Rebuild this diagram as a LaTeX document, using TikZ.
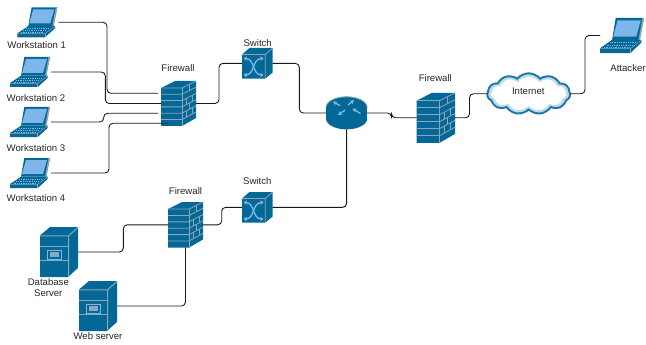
\documentclass[tikz,border=0pt]{standalone}
\usepackage{fontspec}
\setmainfont{Liberation Sans}
\usetikzlibrary{arrows.meta,shapes.symbols}
\definecolor{ciscoblue}{HTML}{036897}
\definecolor{ciscoedge}{HTML}{8CA6B4}
\definecolor{screenblue}{HTML}{7DB6EA}
\definecolor{arrowblue}{HTML}{7DBBE6}
\definecolor{cloudline}{HTML}{1F76A3}
\definecolor{cloudhalo}{HTML}{BBDCEC}
\definecolor{labeltext}{HTML}{262626}
\tikzset{
  x=1pt,y=-1pt,
  iconbox/.style={inner sep=0pt,outer sep=0pt,minimum width=#1,anchor=north west},
  lab/.style={font=\fontsize{9.6}{11.6}\selectfont,text=labeltext,inner sep=0pt,align=center},
  link/.style={draw=black!90,line width=0.9pt,rounded corners=4pt},
  edge line/.style={draw=ciscoedge,line width=0.8pt},
  flow/.style={draw=arrowblue,line width=1.3pt},
  flowtip/.style={flow,{Stealth[length=3.6pt,width=4.4pt]}-{Stealth[length=3.6pt,width=4.4pt]}},
  flowone/.style={flow,-{Stealth[length=4pt,width=4.6pt]}},
  laptop/.pic={
    \fill[ciscoblue] (14.3,0)--(40,0)--(36,18.7)--(11,18.7)--cycle;
    \fill[ciscoedge] (38.5,0)--(40,0)--(36.5,18.7)--(35,18.7)--cycle;
    \fill[screenblue] (16,2)--(37,2)--(33,16)--(12,16)--cycle;
    \fill[ciscoblue] (11,18.7)--(37.7,18.7)--(37.7,21)--(27.7,30)--(0,30)--(0,26)--cycle;
    \draw[edge line,line width=0.5pt] (0,26.3)--(27.7,26.3)--(37.7,18.9);
    \draw[edge line,line width=0.5pt] (27.7,26.3)--(27.7,30);
    \draw[arrowblue,line width=0.6pt,dash pattern=on 1pt off 0.8pt]
      (9,21)--(32,21) (6,23)--(29,23) (3.5,25)--(26.5,25);
  },
  firewall/.pic={
    \fill[ciscoblue] (0,7)--(14,0)--(35,0)--(35,37)--(21,45)--(0,45)--cycle;
    \foreach \k in {0,...,5}{
      \draw[edge line] (0,7+\k*6.3)--(21,7+\k*6.3)--(35,\k*6.2);
    }
    \draw[edge line] (21,7)--(21,45);
    \foreach \xa/\ya in {28/3.5,25/17.5,31/14,28/22,25/30,31/26.5}{
      \draw[edge line] (\xa,\ya)--(\xa,\ya+6);
    }
  },
  netswitch/.pic={
    \fill[ciscoblue] (0,6.5)--(7.5,0)--(30.7,0)--(30.7,24.5)--(23.2,30.7)--(0,30.7)--cycle;
    \draw[edge line] (0,6.5)--(23.2,6.5)--(30.7,0) (23.2,6.5)--(23.2,30.7);
    \draw[flowtip] (1.5,10.5) .. controls (13,10.5) and (10,27) .. (21.7,27);
    \draw[flowtip] (1.5,27) .. controls (13,27) and (10,10.5) .. (21.7,10.5);
  },
  router/.pic={
    \fill[ciscoblue] (0,11) rectangle (41.2,22);
    \fill[ciscoblue] (20.6,11) ellipse[x radius=20.6,y radius=11];
    \fill[ciscoblue] (20.6,22) ellipse[x radius=20.6,y radius=10.8];
    \draw[edge line] (0,11) arc[start angle=180,end angle=0,x radius=20.6,y radius=-10.8];
    \draw[flowone] (14,9)--(7,5);
    \draw[flowone] (19,13.5)--(12,18.5);
    \draw[flowone] (22,8.5)--(28,3.5);
    \draw[flowone] (34.5,17)--(26.5,12);
  },
  server/.pic={
    \fill[ciscoblue] (0,8.5)--(10,0)--(38,0)--(38,41)--(28,50)--(0,50)--cycle;
    \draw[edge line,line width=1pt] (0,8.8)--(28.5,8.8)--(38,0.5) (28.5,8.8)--(28.5,49.5);
    \draw[edge line,line width=1pt] (0,19.7)--(28.5,19.7) (0,33.7)--(28.5,33.7);
    \draw[arrowblue,line width=1pt,fill=ciscoblue] (7,23)rectangle(21.5,32);
    \fill[ciscoedge!80!arrowblue] (9.5,25.3)rectangle(19,29.7);
  }
}
\begin{document}
\begin{tikzpicture}
\useasboundingbox (0,0) rectangle (646,345);
% icon boxes
\node[iconbox=41pt,minimum height=30pt] (ws1) at (17.3,7.3) {};
\node[iconbox=41pt,minimum height=30pt] (ws2) at (10,57) {};
\node[iconbox=41pt,minimum height=30pt] (ws3) at (10,107) {};
\node[iconbox=41pt,minimum height=30pt] (ws4) at (10,158) {};
\node[iconbox=45pt,minimum height=35pt] (att) at (600,18) {};
\node[iconbox=35pt,minimum height=45pt] (fw1) at (161,81) {};
\node[iconbox=38.4pt,minimum height=50pt] (fw2) at (416.7,92.8) {};
\node[iconbox=35pt,minimum height=45.6pt] (fw3) at (168,202) {};
\node[iconbox=30.7pt,minimum height=30.7pt] (sw1) at (242,48) {};
\node[iconbox=30.7pt,minimum height=30.7pt] (sw2) at (242,192) {};
\node[iconbox=41.2pt,minimum height=32.8pt] (rt) at (326,96.6) {};
\node[iconbox=38pt,minimum height=50pt] (db) at (40,227) {};
\node[iconbox=38pt,minimum height=50pt] (web) at (79,281) {};
% icons
\pic at (ws1.north west) {laptop};
\pic at (ws2.north west) {laptop};
\pic at (ws3.north west) {laptop};
\pic at (ws4.north west) {laptop};
\pic[xscale=1.1,yscale=1.167] at (att.north west) {laptop};
\pic at (fw1.north west) {firewall};
\pic[xscale=1.097,yscale=1.11] at (fw2.north west) {firewall};
\pic[yscale=1.013] at (fw3.north west) {firewall};
\pic at (sw1.north west) {netswitch};
\pic at (sw2.north west) {netswitch};
\pic at (rt.north west) {router};
\pic at (db.north west) {server};
\pic at (web.north west) {server};
% cloud
\node[cloud,cloud puffs=11,cloud puff arc=100,aspect=2,cloud ignores aspect,draw=cloudhalo,line width=3.6pt,fill=white,minimum width=79pt,minimum height=38pt,inner sep=0pt] (haze) at (528.7,93.8) {};
\node[cloud,cloud puffs=11,cloud puff arc=100,aspect=2,cloud ignores aspect,draw=cloudline,line width=1.9pt,minimum width=83pt,minimum height=41pt,inner sep=0pt,outer sep=0pt] (inet) at (528.7,93.8) {};
% labels
\node[lab] (l1) at (36.7,45.3) {Workstation 1};
\node[lab] (l2) at (36,97.7) {Workstation 2};
\node[lab] (l3) at (36,148.3) {Workstation 3};
\node[lab] (l4) at (36,197.7) {Workstation 4};
\node[lab] (lf1) at (178,68.3) {Firewall};
\node[lab] (lf2) at (435.3,78.3) {Firewall};
\node[lab] (lf3) at (185.5,190.7) {Firewall};
\node[lab] (ls1) at (257.7,42.7) {Switch};
\node[lab] (ls2) at (257.3,180.7) {Switch};
\node[lab] (lnet) at (528.3,91.7) {Internet};
\node[lab] (latt) at (628,68.3) {Attacker};
\node[lab] (ldb) at (48.3,287.5) {Database\\Server};
\node[lab] (lweb) at (98,336) {Web server};
% connectors
\draw[link] (ws1.east) -| (107,93.3) -- ([xshift=-3pt,yshift=10.2pt]fw1.west);
\draw[link] (ws2.east) -| (105.3,103.5) -- (fw1.west);
\draw[link] (ws3.east) -| (103.7,113.3) -- ([xshift=-3pt,yshift=-9.8pt]fw1.west);
\draw[link] (ws4.east) -| (109,123.3) -- ([xshift=7pt,yshift=-19.8pt]fw1.west);
\draw[link] (fw1.east) -| (219,63.35) -- (sw1.west);
\draw[link] (sw1.east) -| (299.3,113) -- (rt.west);
\draw[link] (rt.east) -| (391.5,117.8) -- (fw2.west);
\draw[link] (fw2.east) -| (469.5,93.8) -- (inet.west);
\draw[link] (inet.east) -| (585,35.5) -- (att.west);
\draw[link] (rt.south) |- (sw2.east);
\draw[link] (sw2.west) -| (221.7,224.8) -- (fw3.east);
\draw[link] (fw3.west) -| (123.3,252) -- (db.east);
\draw[link] (fw3.south) |- (web.east);
\end{tikzpicture}
\end{document}
